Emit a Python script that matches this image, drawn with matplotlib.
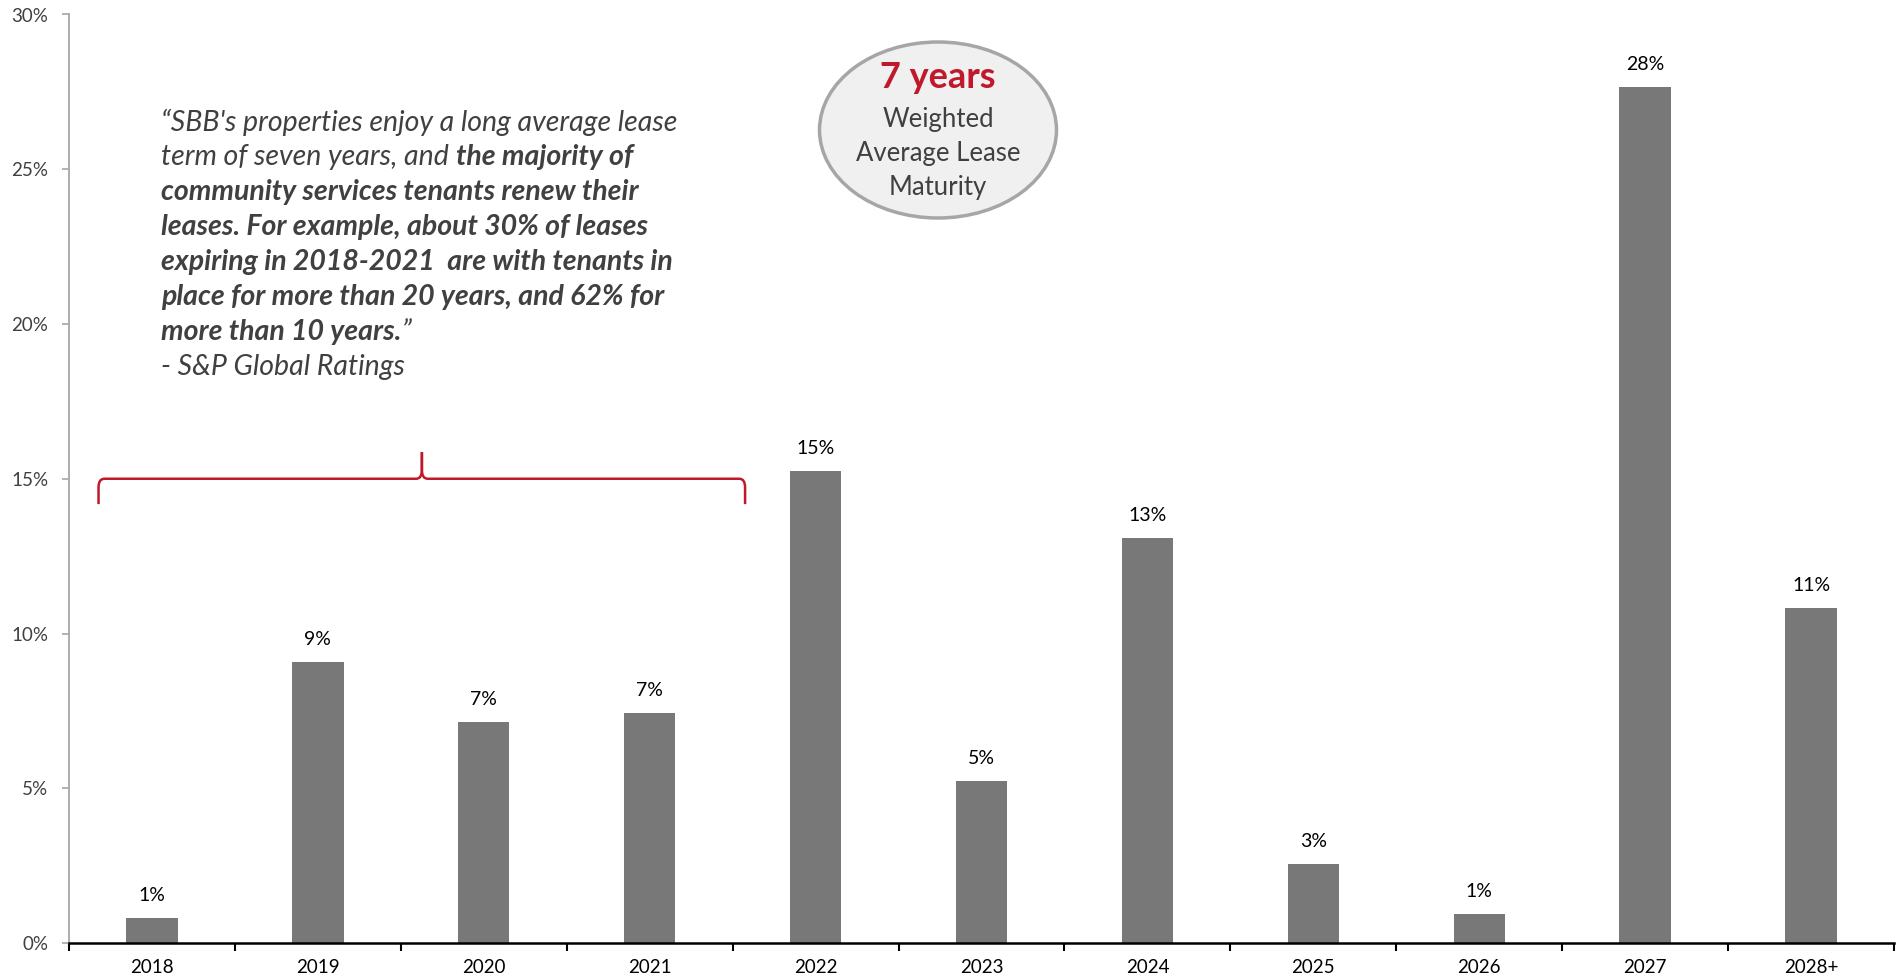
import matplotlib
matplotlib.use("Agg")
import matplotlib.pyplot as plt
from matplotlib.patches import Ellipse, PathPatch
from matplotlib.path import Path

# Lease expiry profile by year (share of contracted rent, %)
years = ["2018", "2019", "2020", "2021", "2022", "2023", "2024",
         "2025", "2026", "2027", "2028+"]
share = [0.82, 9.09, 7.13, 7.44, 15.24, 5.25, 13.08, 2.55, 0.94, 27.65, 10.81]

y_ticks = [0, 5, 10, 15, 20, 25, 30]

# Quote lines: each line is a list of (text, is_bold) segments
quote_lines = [
    [("\u201cSBB's properties enjoy a long average lease", False)],
    [("term of seven years, and ", False), ("the majority of", True)],
    [("community services tenants renew their", True)],
    [("leases. For example, about 30% of leases", True)],
    [("expiring in 2018-2021  are with tenants in", True)],
    [("place for more than 20 years, and 62% for", True)],
    [("more than 10 years.", True), ("\u201d", False)],
    [("- S&P Global Ratings", False)],
]

wale_headline = "7 years"
wale_caption = ["Weighted", "Average Lease", "Maturity"]

FONT = "Lato"
BAR = "#787878"
RED = "#c0192b"
DARK = "#404040"

plt.rcParams["font.family"] = [FONT, "DejaVu Sans"]

W, H = 1900, 980
fig = plt.figure(figsize=(W / 100, H / 100), dpi=100)
ax = fig.add_axes([69 / W, 37 / H, (1894 - 69) / W, (943 - 14.5) / H])

x = list(range(len(years)))
ax.bar(x, share, width=0.31, color=BAR, zorder=2)

for xi, v in zip(x, share):
    ax.annotate(f"{round(v):d}%", xy=(xi, v), xytext=(0, 14),
                textcoords="offset pixels", ha="center", va="bottom",
                fontsize=14, color="black")

ax.set_xlim(-0.5, len(years) - 0.5)
ax.set_ylim(0, 30)

# x axis: labels at category centres, tick marks at category boundaries
ax.set_xticks(x)
ax.set_xticklabels(years, fontsize=13.5, color="black")
ax.tick_params(axis="x", which="major", length=0, pad=11.5)
ax.set_xticks([i - 0.5 for i in range(len(years) + 1)], minor=True)
ax.tick_params(axis="x", which="minor", length=6, width=1.5, color="black",
               direction="out")

ax.set_yticks(y_ticks)
ax.set_yticklabels([f"{t}%" for t in y_ticks], fontsize=13.5, color=DARK)
ax.tick_params(axis="y", length=5, width=1.2, color="#a6a6a6", pad=10)

for side in ("top", "right"):
    ax.spines[side].set_visible(False)
ax.spines["left"].set_color("#a6a6a6")
ax.spines["left"].set_linewidth(1.3)
ax.spines["bottom"].set_color("black")
ax.spines["bottom"].set_linewidth(1.8)
ax.spines["bottom"].set_zorder(3)

# Curly brace spanning 2018-2021
x0, x1, xp = -0.322, 3.575, 1.627
yh, ye, yp = 15.0, 14.18, 15.86
dx, ry = 0.035, 0.28
for xs, sgn in ((x0, 1), (x1, -1)):
    verts = [(xs, ye), (xs, yh - ry), (xs, yh), (xs + sgn * dx, yh),
             (xp - sgn * dx, yh), (xp, yh), (xp, yh + ry), (xp, yp)]
    codes = [Path.MOVETO, Path.LINETO, Path.CURVE3, Path.CURVE3,
             Path.LINETO, Path.CURVE3, Path.CURVE3, Path.LINETO]
    ax.add_patch(PathPatch(Path(verts, codes), fill=False, edgecolor=RED,
                           linewidth=1.8, capstyle="butt", zorder=4,
                           clip_on=False))

# Quote block
qx, qy0, qstep = 161, 122, 35
qsize = 20.5
for i, segs in enumerate(quote_lines):
    y = 1 - (qy0 + i * qstep) / H
    prev = None
    for text, bold in segs:
        kw = dict(fontsize=qsize, color=DARK, style="italic",
                  weight="bold" if bold else "normal", ha="left")
        if prev is None:
            prev = fig.text(qx / W, y, text, va="center", **kw)
        else:
            prev = ax.annotate(text, xy=(1, 0), xycoords=prev,
                               va="bottom", annotation_clip=False, **kw)

# WALE badge
cx, cy = 938, 130
ax.add_patch(Ellipse((cx / W, 1 - cy / H), 237 / W, 176 / H,
                     transform=fig.transFigure, facecolor="#f0f0f0",
                     edgecolor="#a6a6a6", linewidth=2.5, zorder=5,
                     clip_on=False))
fig.text(cx / W, 1 - 78 / H, wale_headline, ha="center", va="center",
         fontsize=26, weight="bold", color=RED, zorder=6)
for yy, line in zip((120, 153, 187), wale_caption):
    fig.text(cx / W, 1 - yy / H, line, ha="center", va="center",
             fontsize=18.5, color=DARK, zorder=6)

fig.savefig("out.png", dpi=100)
